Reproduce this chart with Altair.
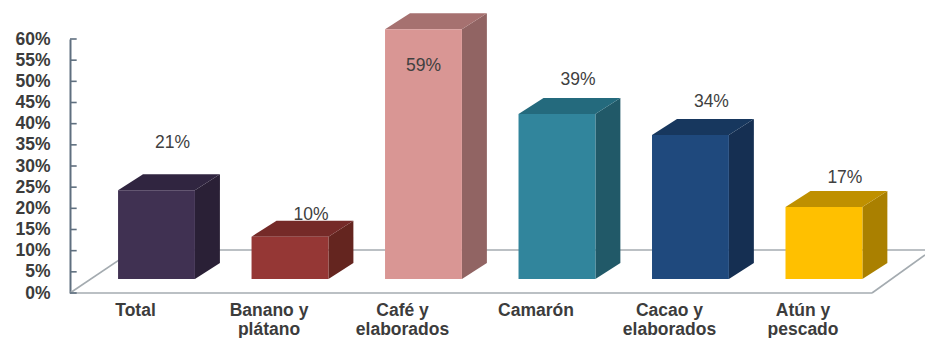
import altair as alt
import pandas as pd

# Export shares by product group
categories = ["Total", "Banano y\nplátano", "Café y\nelaborados", "Camarón", "Cacao y\nelaborados", "Atún y\npescado"]
values = [21, 10, 59, 39, 34, 17]
value_labels = ["21%", "10%", "59%", "39%", "34%", "17%"]
front_colors = ["#403152", "#953735", "#d99694", "#31859c", "#1f497d", "#ffc000"]
side_colors = ["#2a2036", "#64251f", "#916463", "#215968", "#152f52", "#aa8000"]
top_colors = ["#302540", "#752a28", "#a67170", "#246a7d", "#17375e", "#bf9000"]
y_ticks = list(range(0, 65, 5))

# Layout of the pseudo-3D scene, in category slots (x) and percentage points (y)
PLOT_W, PLOT_H = 855, 254
X_MIN, X_MAX = -0.648, 5.757
HALF_W = 0.288
DEPTH_X = 0.187
DEPTH_Y = 3.78
BASE = 3.3
FLOOR_BACK = 10.16
LABEL_SHIFT = -0.157
# Value label placement relative to the bar's front-top centre
label_dx = [0.12, 0.157, 0.0, 0.157, 0.157, 0.157]
label_dy = [11.1, 5.2, -8.7, 8.0, 7.8, 6.9]

rows_front, rows_side, rows_top, rows_labels, rows_cats = [], [], [], [], []
for i, (cat, v, lab) in enumerate(zip(categories, values, value_labels)):
    left, right = i - HALF_W, i + HALF_W
    top = v + BASE
    rows_front.append(dict(x=left, x2=right, y=BASE, y2=top, c=front_colors[i]))
    rows_side += [
        dict(x=right, y=BASE, y2=top, c=side_colors[i]),
        dict(x=right + DEPTH_X, y=BASE + DEPTH_Y, y2=top + DEPTH_Y, c=side_colors[i]),
    ]
    rows_top += [
        dict(y=top, x=left, x2=right, c=top_colors[i]),
        dict(y=top + DEPTH_Y, x=left + DEPTH_X, x2=right + DEPTH_X, c=top_colors[i]),
    ]
    rows_labels.append(dict(x=i + label_dx[i], y=top + label_dy[i], t=lab))
    rows_cats.append(dict(x=i + LABEL_SHIFT, t=cat))

x_scale = alt.Scale(domain=[X_MIN, X_MAX], nice=False, zero=False)
y_scale = alt.Scale(domain=[0, 60], nice=False, zero=False)

# Every layer shares the one value axis so that the layers merge cleanly
y_axis = alt.Axis(
    values=y_ticks,
    title=None,
    labelExpr="datum.value + '%'",
    ticks=False,
    grid=False,
    domainColor="#5f6f7f",
    domainWidth=2,
    labelPadding=20,
    labelFont="Liberation Sans",
    labelFontSize=17.5,
    labelFontWeight="bold",
    labelColor="#3c3c3c",
    labelOverlap=False,
)
X = lambda f="x": alt.X(f"{f}:Q", scale=x_scale, axis=None)
Y = lambda f="y": alt.Y(f"{f}:Q", scale=y_scale, axis=y_axis)
FILL = alt.Color("c:N", scale=None)

# Floor of the scene: front edge, back edge and both diagonals
floor_rows = [
    dict(g="front", o=0, x=X_MIN, y=0),
    dict(g="front", o=1, x=5.36, y=0),
    dict(g="right", o=0, x=5.36, y=0),
    dict(g="right", o=1, x=X_MAX, y=9.0),
    dict(g="back", o=0, x=-0.169, y=FLOOR_BACK),
    dict(g="back", o=1, x=X_MAX, y=FLOOR_BACK),
    dict(g="left", o=0, x=X_MIN, y=0),
    dict(g="left", o=1, x=-0.169, y=FLOOR_BACK),
]
floor = alt.Chart(alt.Data(values=floor_rows)).mark_line(color="#a4abb0", strokeWidth=1.6).encode(
    x=X(), y=Y(), detail="g:N", order="o:Q"
)

# Short ticks pointing into the plot from the value axis
tick_rows = [dict(y=t, x=X_MIN, x2=X_MIN + 0.05) for t in y_ticks]
ticks = alt.Chart(alt.Data(values=tick_rows)).mark_rule(color="#5f6f7f", strokeWidth=1.6).encode(
    x=X(), x2="x2:Q", y=Y()
)

side = alt.Chart(alt.Data(values=rows_side)).mark_area().encode(x=X(), y=Y(), y2="y2:Q", color=FILL)
roof = alt.Chart(alt.Data(values=rows_top)).mark_area(orient="horizontal").encode(
    y=Y(), x=X(), x2="x2:Q", color=FILL
)
front = alt.Chart(alt.Data(values=rows_front)).mark_rect().encode(
    x=X(), x2="x2:Q", y=Y(), y2="y2:Q", color=FILL
)

value_text = alt.Chart(alt.Data(values=rows_labels)).mark_text(
    font="Liberation Sans", fontSize=17.5, color="#404040", baseline="middle"
).encode(x=X(), y=Y(), text="t:N")

category_text = alt.Chart(alt.Data(values=rows_cats)).mark_text(
    font="Liberation Sans", fontSize=17.5, fontWeight="bold", color="#3c3c3c",
    baseline="middle", lineBreak="\n", lineHeight=19,
).encode(x=X(), y=alt.value(PLOT_H + 18), text="t:N")

chart = alt.layer(floor, ticks, side, roof, front, value_text, category_text).properties(
    width=PLOT_W,
    height=PLOT_H,
    padding={"left": 70, "top": 39, "right": 0, "bottom": 45},
    autosize=alt.AutoSizeParams(type="none"),
    background="#ffffff",
).configure_view(stroke=None)

chart.save("out.html", embed_options={"renderer": "svg", "actions": False})
